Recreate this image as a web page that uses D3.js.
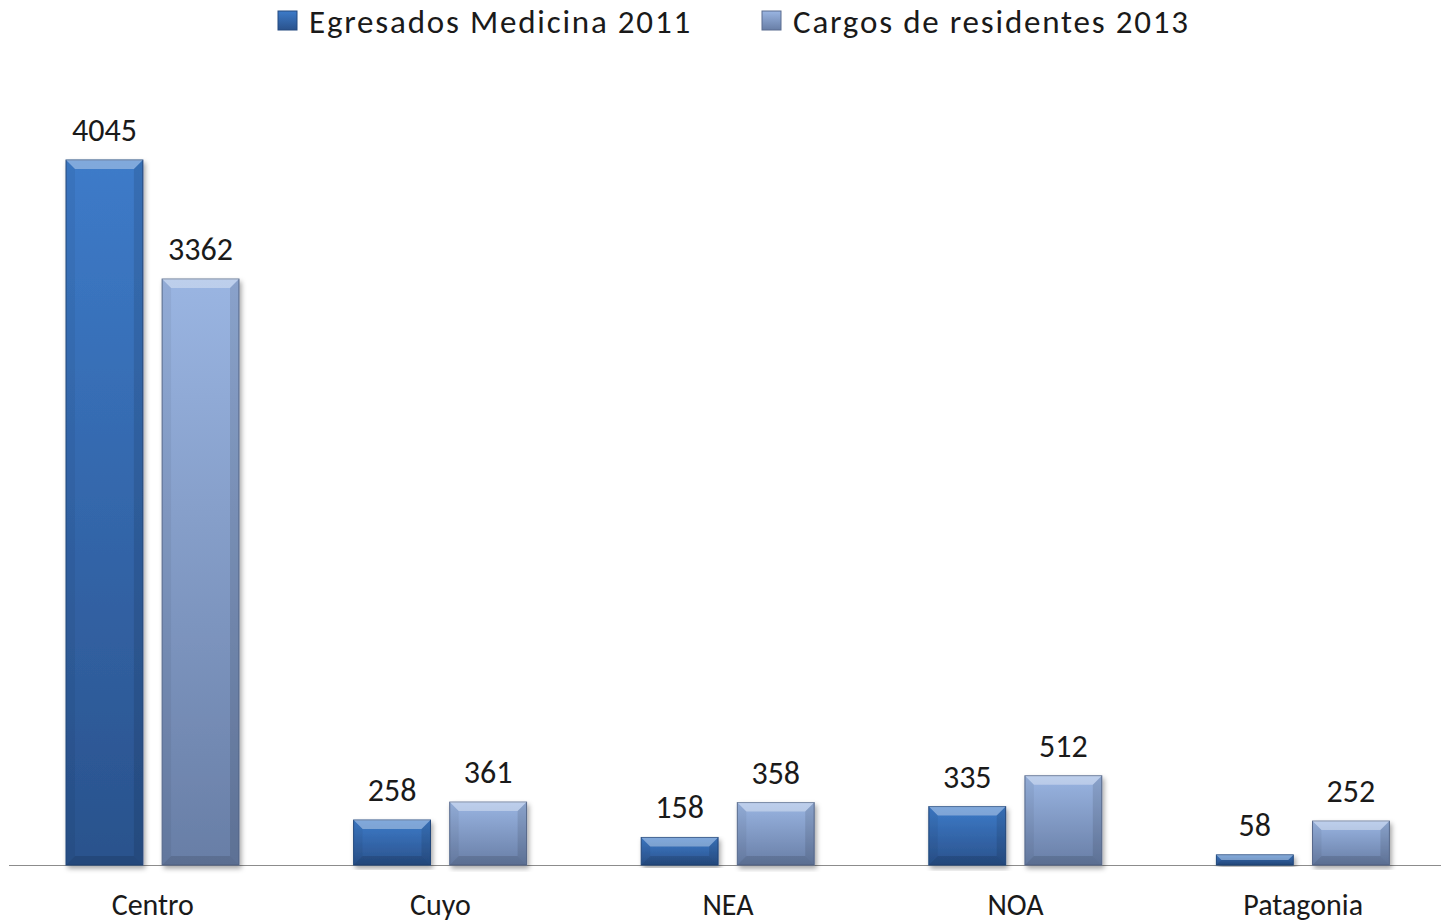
<!DOCTYPE html>
<html>
<head>
<meta charset="utf-8">
<script src="https://cdn.jsdelivr.net/npm/d3@7"></script>
<style>
  body { margin: 0; background: #fff; }
  svg { display: block; }
  text { font-family: Carlito, "Noto Sans", sans-serif; fill: #1a1a1a; }
</style>
</head>
<body>
<div class="a"></div>
<script>
var regions = ["Centro", "Cuyo", "NEA", "NOA", "Patagonia"]
var seriesNames = ["Egresados Medicina 2011", "Cargos de residentes 2013"]
var egresados = [4045, 258, 158, 335, 58]
var cargos = [3362, 361, 358, 512, 252]

var w = 1441
var h = 923
var baseY = 865

var svg = d3.select(".a").append("svg")
    .attr("width", w)
    .attr("height", h)

var defs = svg.append("defs")
// gradient colours for each series: [top, bottom]
var grads = [["#3d7bc9", "#2a528c"], ["#9ab5e2", "#687ea6"]]
grads.forEach(function(g, i) {
    var lg = defs.append("linearGradient")
        .attr("id", "g" + i)
        .attr("x1", 0).attr("y1", 0).attr("x2", 0).attr("y2", 1)
    lg.append("stop").attr("offset", "0%").attr("stop-color", g[0])
    lg.append("stop").attr("offset", "100%").attr("stop-color", g[1])
})
var f = defs.append("filter").attr("id", "shadow")
    .attr("x", "-20%").attr("y", "-5%").attr("width", "140%").attr("height", "115%")
f.append("feDropShadow")
    .attr("dx", 2).attr("dy", 3).attr("stdDeviation", 2.5)
    .attr("flood-color", "#000").attr("flood-opacity", 0.35)

var x0 = d3.scaleBand()
    .domain(regions)
    .range([9, 1447])
    .padding(0)

var x1 = d3.scaleBand()
    .domain([0, 1])
    .range([57, 230])
    .paddingInner(0.2)

var y = d3.scaleLinear()
    .domain([0, 4500])
    .range([baseY, baseY - 705 * 4500 / 4045])

// axis line
svg.append("line")
    .attr("x1", 9).attr("x2", w)
    .attr("y1", baseY + 0.5).attr("y2", baseY + 0.5)
    .attr("stroke", "#8c8c8c").attr("stroke-width", 1)

var data = []
regions.forEach(function(r, i) {
    data.push({ region: r, s: 0, v: egresados[i] })
    data.push({ region: r, s: 1, v: cargos[i] })
})

var bars = svg.append("g").selectAll("g")
    .data(data)
    .enter().append("g")
    .attr("transform", function(d) { return "translate(" + x0(d.region) + ",0)" })

bars.each(function(d) {
    var g = d3.select(this)
    var bx = x1(d.s), bw = x1.bandwidth()
    var top = y(d.v), bh = baseY - top
    var bev = Math.min(9, bh / 2)
    g.append("rect")
        .attr("x", bx).attr("y", top)
        .attr("width", bw).attr("height", bh)
        .attr("fill", "url(#g" + d.s + ")")
        .attr("stroke", d.s ? "#5a6d90" : "#244a80")
        .attr("stroke-width", 1)
        .attr("filter", "url(#shadow)")
    // top bevel
    g.append("path")
        .attr("d", "M" + bx + "," + top + "L" + (bx + bw) + "," + top +
            "L" + (bx + bw - bev) + "," + (top + bev) + "L" + (bx + bev) + "," + (top + bev) + "Z")
        .attr("fill", "#fff").attr("fill-opacity", 0.35)
    // side and bottom shading
    g.append("path")
        .attr("d", "M" + (bx + bw) + "," + top + "L" + (bx + bw) + "," + baseY +
            "L" + (bx + bw - bev) + "," + (baseY - bev) + "L" + (bx + bw - bev) + "," + (top + bev) + "Z")
        .attr("fill", "#000").attr("fill-opacity", 0.1)
    g.append("path")
        .attr("d", "M" + bx + "," + top + "L" + bx + "," + baseY +
            "L" + (bx + bev) + "," + (baseY - bev) + "L" + (bx + bev) + "," + (top + bev) + "Z")
        .attr("fill", "#000").attr("fill-opacity", 0.05)
    g.append("path")
        .attr("d", "M" + bx + "," + baseY + "L" + (bx + bw) + "," + baseY +
            "L" + (bx + bw - bev) + "," + (baseY - bev) + "L" + (bx + bev) + "," + (baseY - bev) + "Z")
        .attr("fill", "#000").attr("fill-opacity", 0.12)
    g.append("text")
        .attr("x", bx + bw / 2)
        .attr("y", top - 19)
        .attr("text-anchor", "middle")
        .attr("font-size", 32)
        .text(d.v)
})

// category labels
svg.append("g").selectAll("text")
    .data(regions)
    .enter().append("text")
    .attr("x", function(d) { return x0(d) + x0.bandwidth() / 2 })
    .attr("y", 915)
    .attr("text-anchor", "middle")
    .attr("font-size", 30)
    .text(function(d) { return d })

// legend
var legX = [278, 762]
var leg = svg.append("g").selectAll("g")
    .data(seriesNames)
    .enter().append("g")
    .attr("transform", function(d, i) { return "translate(" + legX[i] + ",0)" })
leg.append("rect")
    .attr("x", 0).attr("y", 11)
    .attr("width", 19).attr("height", 19)
    .attr("fill", function(d, i) { return "url(#g" + i + ")" })
    .attr("stroke", function(d, i) { return i ? "#5a6d90" : "#244a80" })
leg.append("text")
    .attr("x", 31).attr("y", 33)
    .attr("font-size", 33)
    .attr("letter-spacing", 1.8)
    .text(function(d) { return d })
</script>
</body>
</html>
